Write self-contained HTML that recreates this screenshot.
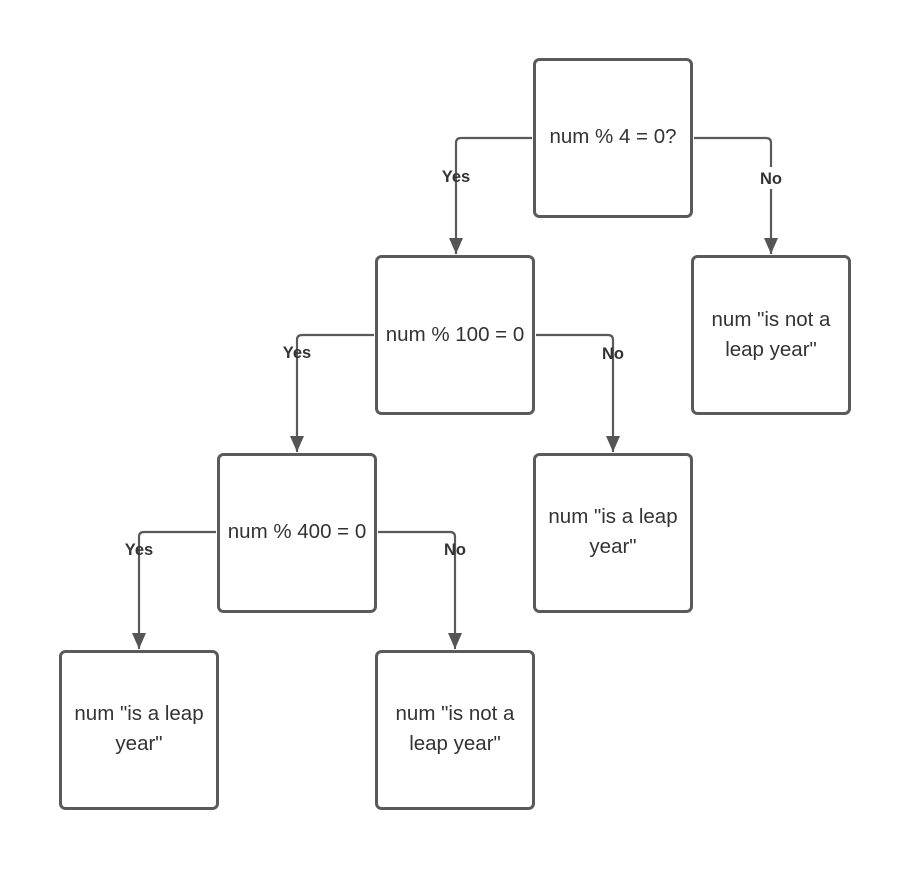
<!DOCTYPE html>
<html><head><meta charset="utf-8"><style>html,body{margin:0;padding:0;background:#fff}</style></head>
<body>
<svg width="911" height="868" viewBox="0 0 911 868" xmlns="http://www.w3.org/2000/svg">
<defs>
<marker id="a" markerWidth="16" markerHeight="14" refX="16" refY="7" orient="auto" markerUnits="userSpaceOnUse" viewBox="0 0 16 14">
<path d="M0,0 L16,7 L0,14 Z" fill="#555"/>
</marker>
</defs>
<g fill="#fff" stroke="#5a5a5a" stroke-width="3">
<rect x="534.5" y="59.5" width="157" height="157" rx="5"/>
<rect x="376.5" y="256.5" width="157" height="157" rx="5"/>
<rect x="692.5" y="256.5" width="157" height="157" rx="5"/>
<rect x="218.5" y="454.5" width="157" height="157" rx="5"/>
<rect x="534.5" y="454.5" width="157" height="157" rx="5"/>
<rect x="60.5" y="651.5" width="157" height="157" rx="5"/>
<rect x="376.5" y="651.5" width="157" height="157" rx="5"/>
</g>
<g fill="none" stroke="#5a5a5a" stroke-width="2.2">
<path d="M532,138 H461 Q456,138 456,143 V254" marker-end="url(#a)"/>
<path d="M694,138 H766 Q771,138 771,143 V254" marker-end="url(#a)"/>
<path d="M374,335 H302 Q297,335 297,340 V452" marker-end="url(#a)"/>
<path d="M536,335 H608 Q613,335 613,340 V452" marker-end="url(#a)"/>
<path d="M216,532 H144 Q139,532 139,537 V649" marker-end="url(#a)"/>
<path d="M378,532 H450 Q455,532 455,537 V649" marker-end="url(#a)"/>
</g>
<rect x="757" y="167" width="28" height="22" fill="#fff"/>
<g font-family="Liberation Sans, sans-serif" font-weight="bold" font-size="16.5" fill="#333" text-anchor="middle">
<text x="456" y="182">Yes</text>
<text x="771" y="184">No</text>
<text x="297" y="358">Yes</text>
<text x="613" y="359">No</text>
<text x="139" y="555">Yes</text>
<text x="455" y="555">No</text>
</g>
<g font-family="Liberation Sans, sans-serif" font-size="20.5" fill="#333" text-anchor="middle">
<rect x="538" y="124" width="150" height="26" fill="#fff"/>
<text x="613" y="143">num % 4 = 0?</text>
<rect x="380" y="322" width="150" height="26" fill="#fff"/>
<text x="455" y="341">num % 100 = 0</text>
<rect x="222" y="519" width="150" height="26" fill="#fff"/>
<text x="297" y="538">num % 400 = 0</text>
<text x="771" y="326">num "is not a</text>
<text x="771" y="356">leap year"</text>
<text x="613" y="523">num "is a leap</text>
<text x="613" y="553">year"</text>
<text x="139" y="720">num "is a leap</text>
<text x="139" y="750">year"</text>
<text x="455" y="720">num "is not a</text>
<text x="455" y="750">leap year"</text>
</g>
</svg>
</body></html>
